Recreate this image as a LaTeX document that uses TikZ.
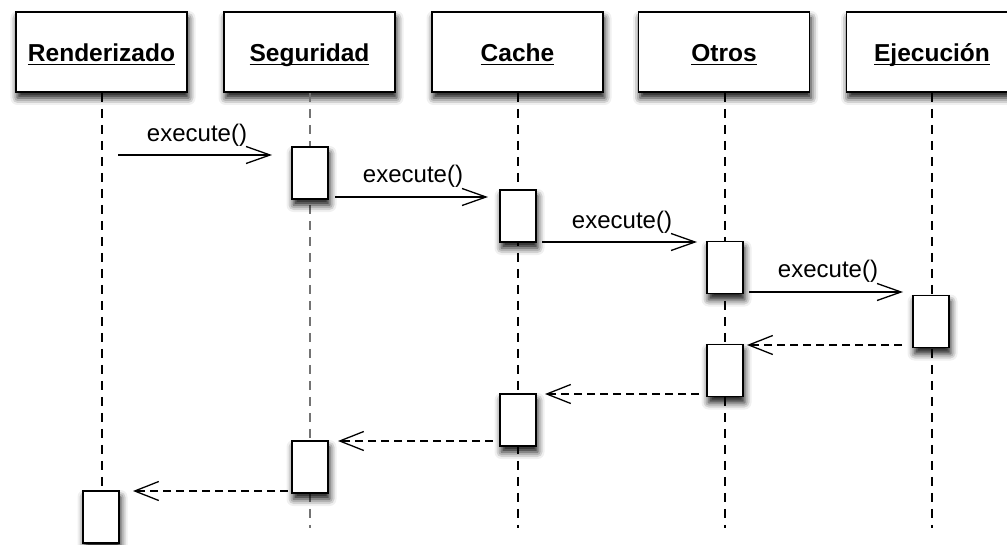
\documentclass[tikz,border=0pt]{standalone}
\usepackage{fontspec}
\setmainfont{Liberation Sans}
\usetikzlibrary{arrows.meta,shadows.blur}
\newcommand\hdtext[1]{\setbox0\hbox{#1}\rlap{\rule[-3.5pt]{\wd0}{1.1pt}}\box0}
\begin{document}
\begin{tikzpicture}[x=1pt,y=-1pt,
  shd/.style={blur shadow={shadow xshift=1.5pt,shadow yshift=-6pt,shadow blur radius=7pt,shadow opacity=95}},
  hdr/.style={draw,line width=1.6pt,fill=white,minimum width=171pt,minimum height=80pt,inner sep=0pt,
    text height=20pt,text depth=0pt,font=\fontsize{24.5}{28}\selectfont\bfseries,shd},
  act/.style={draw,line width=1.5pt,fill=white,minimum width=36pt,minimum height=52pt,inner sep=0pt,shd},
  life/.style={line width=1.2pt,dash pattern=on 9pt off 7pt},
  call/.style={line width=1.3pt,-{Straight Barb[length=24pt,width=17pt,line width=1.3pt]}},
  ret/.style={line width=1.3pt,dash pattern=on 8pt off 5pt,-{Straight Barb[length=24pt,width=19pt,line width=1.3pt]}},
  lbl/.style={font=\fontsize{24}{28}\selectfont,inner sep=0pt}
]
\clip (0,0) rectangle (1007,545);
\useasboundingbox (0,0) rectangle (1007,545);

% lifeline ends
\coordinate (Rb) at (102,528);
\coordinate (Sb) at (310,528);
\coordinate (Cb) at (518,528);
\coordinate (Ob) at (725,528);
\coordinate (Eb) at (932,528);

% headers
\node[hdr] (R) at (101.5,52) {\hdtext{Renderizado}};
\node[hdr] (S) at (309.5,52) {\hdtext{Seguridad}};
\node[hdr] (C) at (517.5,52) {\hdtext{Cache}};
\node[hdr] (O) at (724,52) {\hdtext{Otros}};
\node[hdr] (E) at (932,52) {\hdtext{Ejecución}};

\draw[life] (R.south -| Rb) -- (Rb);
\draw[life,draw=black!55,line width=1.8pt] (S.south -| Sb) -- (Sb);
\draw[life] (C.south -| Cb) -- (Cb);
\draw[life] (O.south -| Ob) -- (Ob);
\draw[life] (E.south -| Eb) -- (Eb);

% activations
\node[act] (sa1) at (310,173) {};
\node[act] (ca1) at (518,216) {};
\node[act] (oa1) at (725,267.5) {};
\node[act] (ea)  at (931,321.5) {};
\node[act] (oa2) at (725,370.5) {};
\node[act] (ca2) at (518,420) {};
\node[act] (sa2) at (310,467) {};
\node[act] (ra)  at (101,517) {};

% call arrows
\coordinate (a1s) at (118,155);
\coordinate (a1e) at (272,155);
\coordinate (a2s) at (335,197);
\coordinate (a2e) at (488,197);
\coordinate (a3s) at (542,242);
\coordinate (a3e) at (697,242);
\coordinate (a4s) at (749,292);
\coordinate (a4e) at (903,292);
\draw[call] (a1s) -- (a1e);
\draw[call] (a2s) -- (a2e);
\draw[call] (a3s) -- (a3e);
\draw[call] (a4s) -- (a4e);
\node[lbl] (l1) at (197,135) {execute()};
\node[lbl] (l2) at (413,176) {execute()};
\node[lbl] (l3) at (622,222) {execute()};
\node[lbl] (l4) at (828,271) {execute()};

% return arrows
\coordinate (r1s) at (902,345);
\coordinate (r1e) at (747,345);
\coordinate (r2s) at (699,394);
\coordinate (r2e) at (545,394);
\coordinate (r3s) at (493,441);
\coordinate (r3e) at (338,441);
\coordinate (r4s) at (288,491);
\coordinate (r4e) at (133,491);
\draw[ret] (r1s) -- (r1e);
\draw[ret] (r2s) -- (r2e);
\draw[ret] (r3s) -- (r3e);
\draw[ret] (r4s) -- (r4e);
\end{tikzpicture}
\end{document}
